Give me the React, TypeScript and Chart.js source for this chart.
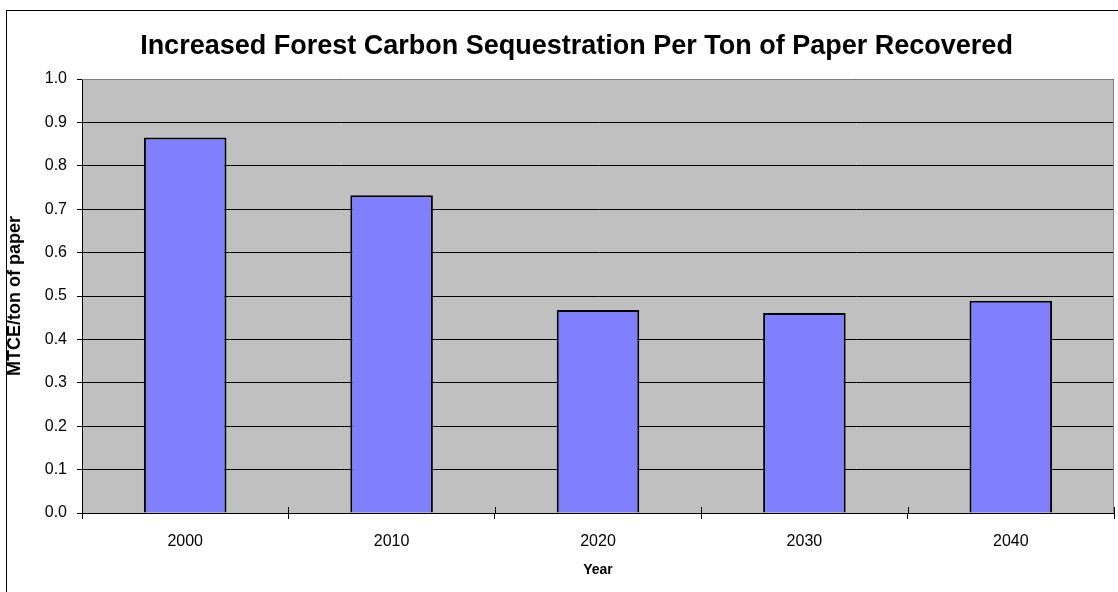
import React, { useEffect, useRef } from "react";
import { Chart, registerables } from "chart.js";

Chart.register(...registerables);

const years = ["2000", "2010", "2020", "2030", "2040"];
const sequestration = [0.865, 0.732, 0.468, 0.461, 0.489];
const yMin = 0;
const yMax = 1;
const yStep = 0.1;

const titleText = "Increased Forest Carbon Sequestration Per Ton of Paper Recovered";
const yTitle = "MTCE/ton of paper";
const xTitle = "Year";

const FONT = "'Liberation Sans', Arial, Helvetica, sans-serif";

const plotDecor = {
  id: "plotDecor",
  beforeDraw(chart: any) {
    const { ctx, chartArea: a } = chart;
    ctx.save();
    ctx.fillStyle = "#C0C0C0";
    ctx.fillRect(a.left, a.top, a.right - a.left, a.bottom - a.top);
    ctx.restore();
  },
  afterDraw(chart: any) {
    const { ctx, chartArea: a } = chart;
    const xs = chart.scales.x;
    ctx.save();
    ctx.strokeStyle = "#808080";
    ctx.lineWidth = 1;
    ctx.beginPath();
    ctx.moveTo(a.left, a.top + 0.5);
    ctx.lineTo(a.right - 0.5, a.top + 0.5);
    ctx.lineTo(a.right - 0.5, a.bottom);
    ctx.stroke();
    // cross tick marks on the category axis (upper half)
    ctx.strokeStyle = "#000";
    ctx.beginPath();
    for (let i = 0; i <= years.length; i++) {
      const px = Math.round(xs.getPixelForValue(i - 0.5)) + 0.5;
      ctx.moveTo(px, a.bottom - 6);
      ctx.lineTo(px, a.bottom);
    }
    ctx.stroke();
    ctx.restore();
  },
};

export default function App() {
  const ref = useRef<HTMLCanvasElement | null>(null);

  useEffect(() => {
    if (!ref.current) return;
    const chart = new Chart(ref.current, {
      type: "bar",
      data: {
        labels: years,
        datasets: [
          {
            data: sequestration,
            backgroundColor: "#8080FF",
            borderColor: "#000000",
            borderWidth: 2,
            categoryPercentage: 1,
            barPercentage: 0.4,
          },
        ],
      },
      options: {
        animation: false,
        responsive: false,
        maintainAspectRatio: false,
        layout: { padding: { left: 0, right: 0, top: 30, bottom: 13 } },
        plugins: {
          legend: { display: false },
          tooltip: { enabled: false },
          title: {
            display: true,
            text: titleText,
            color: "#000",
            font: { family: FONT, size: 27, weight: "bold", lineHeight: 1.2 },
            padding: { top: 0, bottom: 16.6 },
          },
        },
        scales: {
          x: {
            position: "bottom",
            afterFit: (s: any) => {
              s.height = 66;
            },
            grid: {
              display: true,
              drawOnChartArea: false,
              drawTicks: true,
              tickLength: 6,
              color: "#000",
              offset: true,
            },
            border: { display: true, color: "#000", width: 1 },
            ticks: {
              color: "#000",
              font: { family: FONT, size: 16 },
              padding: 13,
              maxRotation: 0,
            },
            title: {
              display: true,
              text: xTitle,
              color: "#000",
              font: { family: FONT, size: 14, weight: "bold", lineHeight: 1.2 },
              padding: { top: 0, bottom: 0 },
            },
          },
          y: {
            position: "left",
            min: yMin,
            max: yMax,
            afterFit: (s: any) => {
              s.width = 82;
            },
            grid: {
              color: "#000",
              lineWidth: 1,
              drawTicks: true,
              tickLength: 5,
            },
            border: { display: true, color: "#000", width: 1 },
            ticks: {
              stepSize: yStep,
              color: "#000",
              font: { family: FONT, size: 16 },
              padding: 10,
              callback: (v: any) => Number(v).toFixed(1),
            },
            title: {
              display: true,
              text: yTitle,
              color: "#000",
              font: { family: FONT, size: 18, weight: "bold", lineHeight: 1.2 },
              padding: { top: 4, bottom: 0 },
            },
          },
          y2: {
            position: "right",
            display: true,
            afterFit: (s: any) => {
              s.width = 39;
            },
            grid: { display: false, drawTicks: false },
            border: { display: false },
            ticks: { display: false },
          },
        },
      },
      plugins: [plotDecor],
    });
    return () => chart.destroy();
  }, []);

  return (
    <div
      style={{
        position: "fixed",
        left: 0,
        top: 0,
        width: 1118,
        height: 592,
        overflow: "hidden",
        background: "#fff",
      }}
    >
      <canvas
        ref={ref}
        width={1153}
        height={592}
        style={{ position: "absolute", left: 0, top: 0, width: 1153, height: 592 }}
      />
      <div
        style={{
          position: "absolute",
          left: 6,
          top: 10,
          width: 1141,
          height: 620,
          border: "1px solid #000",
          boxSizing: "border-box",
          pointerEvents: "none",
        }}
      />
    </div>
  );
}
